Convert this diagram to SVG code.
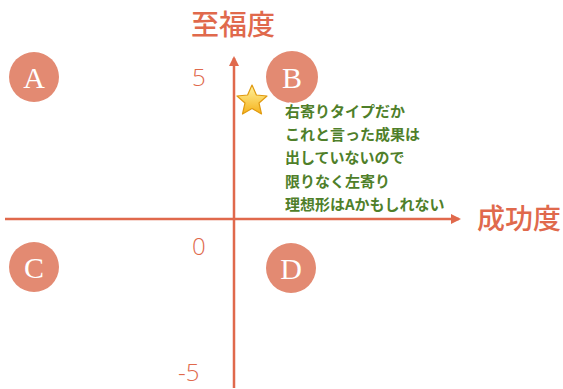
<svg xmlns="http://www.w3.org/2000/svg" width="563" height="389" viewBox="0 0 563 389">
<style>
.axis{stroke:#e0694c;stroke-width:2.5;fill:none}
.ttl{font-family:"Noto Sans CJK JP","Noto Sans",sans-serif;font-size:28px;fill:#e0694c;font-weight:500}
.num{font-family:"Open Sans","Noto Sans",sans-serif;font-size:24px;fill:#e0694c;font-weight:300}
.q circle{fill:#e38a72}
.q text{font-family:"Liberation Serif",serif;font-size:30px;fill:#fff;text-anchor:middle}
.note{font-family:"Noto Sans CJK JP",sans-serif;font-size:15px;font-weight:700;fill:#4f7f2a;stroke:#fff;stroke-width:3;paint-order:stroke}
</style>
<defs>
<marker id="ah" markerWidth="10" markerHeight="10" refX="8" refY="5" orient="auto" markerUnits="userSpaceOnUse">
<path d="M0,0 L10,5 L0,10 Z" fill="#e0694c"/>
</marker>
<linearGradient id="sg" x1="0" y1="0" x2="0" y2="1"><stop offset="0" stop-color="#fff3a0"/><stop offset="1" stop-color="#f5b21a"/></linearGradient>
</defs>
<g id="connectors">
<line class="axis" x1="234" y1="388" x2="234" y2="58" marker-end="url(#ah)"/>
<line class="axis" x1="5" y1="219" x2="459" y2="219" marker-end="url(#ah)"/>
</g>
<g id="title-y"><text class="ttl" x="191" y="35">至福度</text></g>
<g id="title-x"><text class="ttl" x="477" y="229">成功度</text></g>
<g id="labels">
<text class="num" x="192" y="86">5</text>
<text class="num" x="192" y="255">0</text>
<text class="num" x="178" y="381">-5</text>
</g>
<g id="A" class="q"><circle cx="34" cy="77" r="25"/><text x="34" y="88">A</text></g>
<g id="B" class="q"><circle cx="292" cy="77" r="26"/><text x="292" y="88">B</text></g>
<g id="C" class="q"><circle cx="34" cy="267" r="25"/><text x="34" y="278">C</text></g>
<g id="D" class="q"><circle cx="291" cy="268" r="25"/><text x="291" y="279">D</text></g>
<g id="star">
<polygon points="252,85 256.4,95 267,96 259,103 261.5,114 252,108.5 242.5,114 245,103 237,96 247.6,95" fill="url(#sg)" stroke="#e09a10" stroke-width="1.2" stroke-linejoin="round"/>
</g>
<g id="note">
<text class="note" x="285" y="117">右寄りタイプだか</text>
<text class="note" x="285" y="140">これと言った成果は</text>
<text class="note" x="285" y="163">出していないので</text>
<text class="note" x="285" y="187">限りなく左寄り</text>
<text class="note" x="285" y="210">理想形はAかもしれない</text>
</g>
</svg>
